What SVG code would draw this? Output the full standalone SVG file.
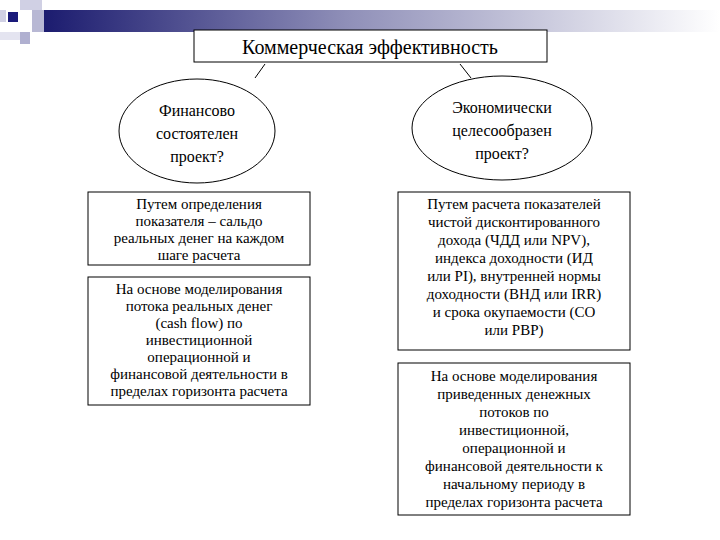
<svg xmlns="http://www.w3.org/2000/svg" width="720" height="540" viewBox="0 0 720 540">
<defs>
<linearGradient id="bar" x1="0" x2="1" y1="0" y2="0">
<stop offset="0" stop-color="#1a1a6e"/>
<stop offset="0.45" stop-color="#8f8fb8"/>
<stop offset="1" stop-color="#ffffff"/>
</linearGradient>
<style>
.b{fill:#fff;stroke:#000;stroke-width:1}
.c{stroke:#000;stroke-width:1;fill:none}
</style>
</defs>
<rect width="720" height="540" fill="#fff"/>
<g id="decor">
<rect x="40" y="10" width="680" height="22" fill="url(#bar)"/>
<rect x="20" y="0" width="22" height="10" fill="#d0d0e4"/>
<rect x="32" y="10" width="12" height="22" fill="#b8b8d4"/>
<rect x="0" y="10" width="6" height="12" fill="#d0d0e4"/>
<rect x="8" y="12" width="10" height="10" fill="#1a1a7a"/>
<rect x="20" y="32" width="10" height="12" fill="#b0b0d0"/>
<rect x="0" y="32" width="20" height="8" fill="#e4e4f0"/>
</g>
<g font-family="'Liberation Serif', 'DejaVu Serif', serif" font-size="15" text-anchor="middle" fill="#000">
<g id="title">
<rect class="b" x="194" y="30" width="353" height="32"/>
<text x="370" y="54" font-size="20">Коммерческая эффективность</text>
</g>
<g id="connectors">
<line class="c" x1="265" y1="64" x2="255" y2="78"/>
<line class="c" x1="460" y1="64" x2="471" y2="78"/>
</g>
<g id="q1">
<ellipse class="b" cx="197" cy="131" rx="78" ry="52"/>
<text x="197" y="116" font-size="16">Финансово</text>
<text x="197" y="139" font-size="16">состоятелен</text>
<text x="197" y="162" font-size="16">проект?</text>
</g>
<g id="q2">
<ellipse class="b" cx="502" cy="128" rx="90" ry="52"/>
<text x="502" y="113" font-size="16">Экономически</text>
<text x="502" y="136" font-size="16">целесообразен</text>
<text x="502" y="159" font-size="16">проект?</text>
</g>
<g id="l1">
<rect class="b" x="88" y="192" width="222" height="73"/>
<text x="199" y="209">Путем определения</text>
<text x="199" y="226">показателя – сальдо</text>
<text x="199" y="243">реальных денег на каждом</text>
<text x="199" y="260">шаге расчета</text>
</g>
<g id="l2">
<rect class="b" x="88" y="277" width="222" height="128"/>
<text x="199" y="294">На основе моделирования</text>
<text x="199" y="311">потока реальных денег</text>
<text x="199" y="328">(cash flow) по</text>
<text x="199" y="345">инвестиционной</text>
<text x="199" y="362">операционной и</text>
<text x="199" y="379">финансовой деятельности в</text>
<text x="199" y="396">пределах горизонта расчета</text>
</g>
<g id="r1">
<rect class="b" x="398" y="192" width="232" height="158"/>
<text x="514" y="209">Путем расчета показателей</text>
<text x="514" y="227">чистой дисконтированного</text>
<text x="514" y="245">дохода (ЧДД или NPV),</text>
<text x="514" y="263">индекса доходности (ИД</text>
<text x="514" y="281">или PI), внутренней нормы</text>
<text x="514" y="299">доходности (ВНД или IRR)</text>
<text x="514" y="317">и срока окупаемости (СО</text>
<text x="514" y="335">или PBP)</text>
</g>
<g id="r2">
<rect class="b" x="398" y="363" width="232" height="152"/>
<text x="514" y="381">На основе моделирования</text>
<text x="514" y="399">приведенных денежных</text>
<text x="514" y="417">потоков по</text>
<text x="514" y="435">инвестиционной,</text>
<text x="514" y="453">операционной и</text>
<text x="514" y="471">финансовой деятельности к</text>
<text x="514" y="489">начальному периоду в</text>
<text x="514" y="507">пределах горизонта расчета</text>
</g>
</g>
</svg>
